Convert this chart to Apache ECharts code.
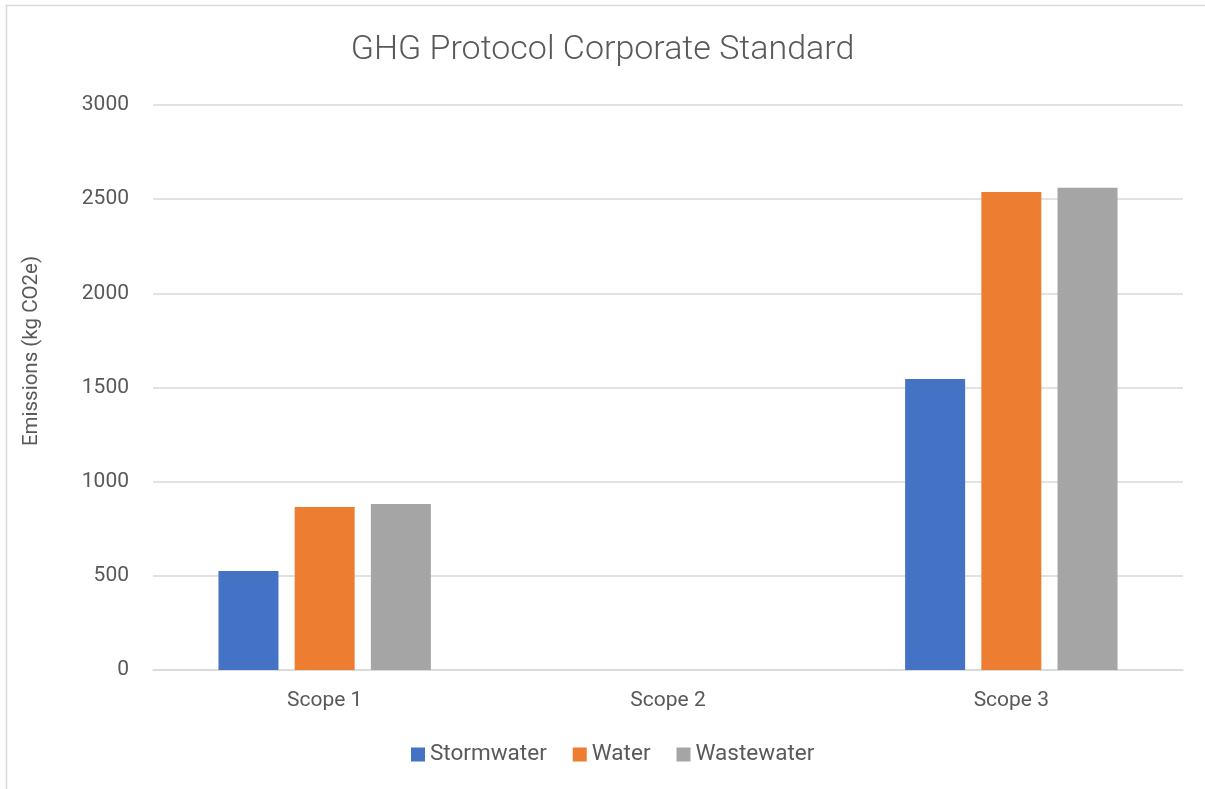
<!DOCTYPE html>
<html lang="en">
<head>
    <meta charset="UTF-8">
    <title>GHG Protocol Corporate Standard</title>
</head>
<body style="margin:0">
<div id='main' style="height: 789px;width: 1205px"></div>
</body>
<script src="https://cdn.jsdelivr.net/npm/echarts@6/dist/echarts.min.js"></script>
<script>
    var categories = ['Scope 1', 'Scope 2', 'Scope 3'];
    var stormwater = [526, 0, 1545];
    var water = [866, 0, 2538];
    var wastewater = [881, 0, 2560];
    var yTicks = [0, 500, 1000, 1500, 2000, 2500, 3000];

    var myChart = echarts.init(document.getElementById('main'));
    var font = 'Roboto';
    var textColor = '#595959';

    function barSeries(name, data, color) {
        return {
            name: name,
            type: 'bar',
            data: data,
            barWidth: 60,
            barGap: '27%',
            itemStyle: {color: color}
        };
    }

    var option = {
        backgroundColor: '#ffffff',
        animation: false,
        title: {
            text: 'GHG Protocol Corporate Standard',
            left: 'center',
            top: 28,
            textStyle: {fontFamily: font, fontWeight: 300, fontSize: 34, color: textColor}
        },
        legend: {
            bottom: 18,
            left: 406,
            itemWidth: 14,
            itemHeight: 14,
            itemGap: 26,
            icon: 'rect',
            textStyle: {fontFamily: font, fontSize: 22.5, color: textColor}
        },
        grid: {left: 153, right: 22, top: 105, bottom: 119},
        graphic: [
            {type: 'rect', shape: {x: 6.5, y: 5.5, width: 1300, height: 900}, style: {fill: 'none', stroke: '#d9d9d9', lineWidth: 1.5}},
            {type: 'text', x: 32, y: 351, rotation: Math.PI / 2,
                style: {text: 'Emissions (kg CO2e)', fontFamily: font, fontSize: 20.5, fill: textColor, align: 'center', verticalAlign: 'middle'}}
        ],
        xAxis: {
            type: 'category',
            data: categories,
            axisTick: {show: false},
            axisLine: {lineStyle: {color: '#d9d9d9', width: 1.5}},
            axisLabel: {fontFamily: font, fontSize: 21, color: textColor, margin: 20}
        },
        yAxis: {
            type: 'value',
            min: yTicks[0],
            max: yTicks[yTicks.length - 1],
            interval: 500,
            axisLine: {show: false},
            axisTick: {show: false},
            splitLine: {lineStyle: {color: '#d9d9d9', width: 1.5}},
            axisLabel: {fontFamily: font, fontSize: 21, color: textColor, margin: 24,
                formatter: function (v) { return String(v); }}
        },
        series: [
            barSeries('Stormwater', stormwater, '#4472C4'),
            barSeries('Water', water, '#ED7D31'),
            barSeries('Wastewater', wastewater, '#A5A5A5')
        ]
    };
    myChart.setOption(option);
</script>
</html>
